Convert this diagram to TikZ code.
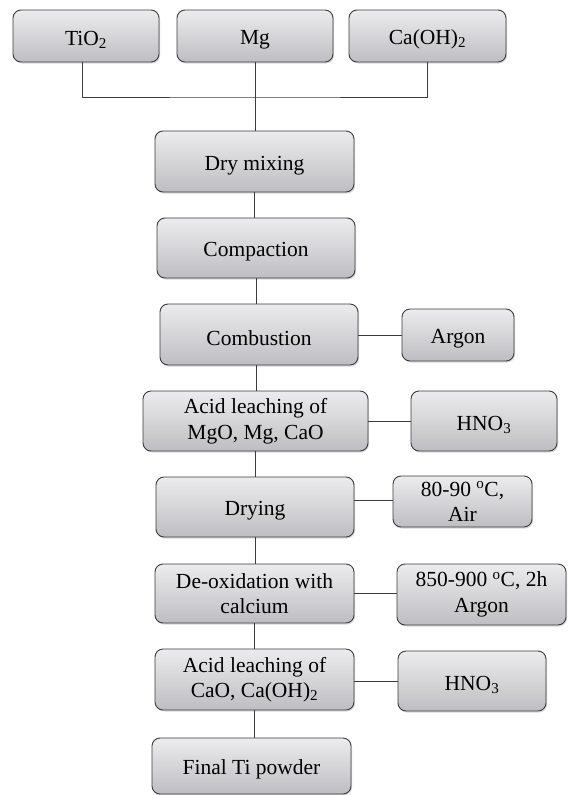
\documentclass[tikz,border=0pt]{standalone}
\usepackage{fontspec}
\setmainfont{Liberation Serif}
\usetikzlibrary{shadows}

\definecolor{boxtop}{RGB}{236,236,238}
\definecolor{boxbot}{RGB}{190,190,194}
\definecolor{boxline}{RGB}{60,60,60}

\tikzset{
  stepbox/.style={draw=boxline, line width=0.9pt, rounded corners=8pt,
    top color=boxtop, bottom color=boxbot, align=center,
    inner xsep=2pt, inner ysep=0pt,
    font=\fontsize{21.5}{25.5}\selectfont,
    execute at begin node={\rule{0pt}{22pt}},
    drop shadow={shadow xshift=1pt, shadow yshift=-1.5pt, opacity=0.3}},
  boxsize/.style 2 args={minimum width=#1pt, minimum height=#2pt},
  link/.style={draw=boxline, line width=1pt}
}

\begin{document}
\begin{tikzpicture}[x=1pt,y=-1pt]
			\useasboundingbox (0,0) rectangle (569,795);
			% raw materials
			\node[stepbox, boxsize={146}{52}] (tio2) at (86,36) {TiO\textsubscript{2}};
			\node[stepbox, boxsize={156}{52}] (mg) at (255,36) {Mg};
			\node[stepbox, boxsize={157}{52}] (caoh) at (427.5,36) {Ca(OH)\textsubscript{2}};
			% process steps
			\node[stepbox, boxsize={199}{61}] (dry) at (254.5,161.5) {Dry mixing};
			\node[stepbox, boxsize={198}{60}] (compact) at (256,248) {Compaction};
			\node[stepbox, boxsize={198}{61}] (combust) at (259,334.5) {Combustion};
			\node[stepbox, boxsize={225}{60}] (leach1) at (255.5,421) {Acid leaching of\\MgO, Mg, CaO};
			\node[stepbox, boxsize={198}{60}] (drying) at (255,507) {Drying};
			\node[stepbox, boxsize={199}{59}] (deox) at (254.5,593.5) {De-oxidation with\\calcium};
			\node[stepbox, boxsize={199}{61}] (leach2) at (254.5,679.5) {Acid leaching of\\CaO, Ca(OH)\textsubscript{2}};
			\node[stepbox, boxsize={199}{56}] (final) at (251.5,766) {Final Ti powder};
			% conditions
			\node[stepbox, boxsize={112}{52}] (argon) at (458,335) {Argon};
			\node[stepbox, boxsize={146}{60}] (hno1) at (484,421) {HNO\textsubscript{3}};
			\node[stepbox, boxsize={139}{51}] (air) at (462.5,501.5) {80-90 \textsuperscript{o}C,\\Air};
			\node[stepbox, boxsize={169}{61}] (deoxcond) at (481.5,594.5) {850-900 \textsuperscript{o}C, 2h\\Argon};
			\node[stepbox, boxsize={148}{60}] (hno2) at (472,681) {HNO\textsubscript{3}};

			\coordinate (bus) at (255,97);
			\draw[link] ([xshift=-4pt]tio2.south) |- (bus) -| (caoh.south);
			\draw[link] (mg.south) -- (mg.south |- dry.north);
			\draw[link] (dry.south) -- (dry.south |- compact.north);
			\draw[link] (compact.south) -- (compact.south |- combust.north);
			\draw[link] ([xshift=-3pt]combust.south) -- ([xshift=-3pt]combust.south |- leach1.north);
			\draw[link] (leach1.south) -- (leach1.south |- drying.north);
			\draw[link] (drying.south) -- (drying.south |- deox.north);
			\draw[link] (deox.south) -- (deox.south |- leach2.north);
			\draw[link] (leach2.south) -- (leach2.south |- final.north);
			\draw[link] (argon.west) -- (argon.west -| combust.east);
			\draw[link] (hno1.west) -- (hno1.west -| leach1.east);
			\draw[link] ([yshift=1.5pt]air.west) -- ([yshift=1.5pt]air.west -| drying.east);
			\draw[link] ([yshift=1.5pt]deoxcond.west) -- ([yshift=1.5pt]deoxcond.west -| deox.east);
			\draw[link] (hno2.west) -- (hno2.west -| leach2.east);
		\end{tikzpicture}
\end{document}
